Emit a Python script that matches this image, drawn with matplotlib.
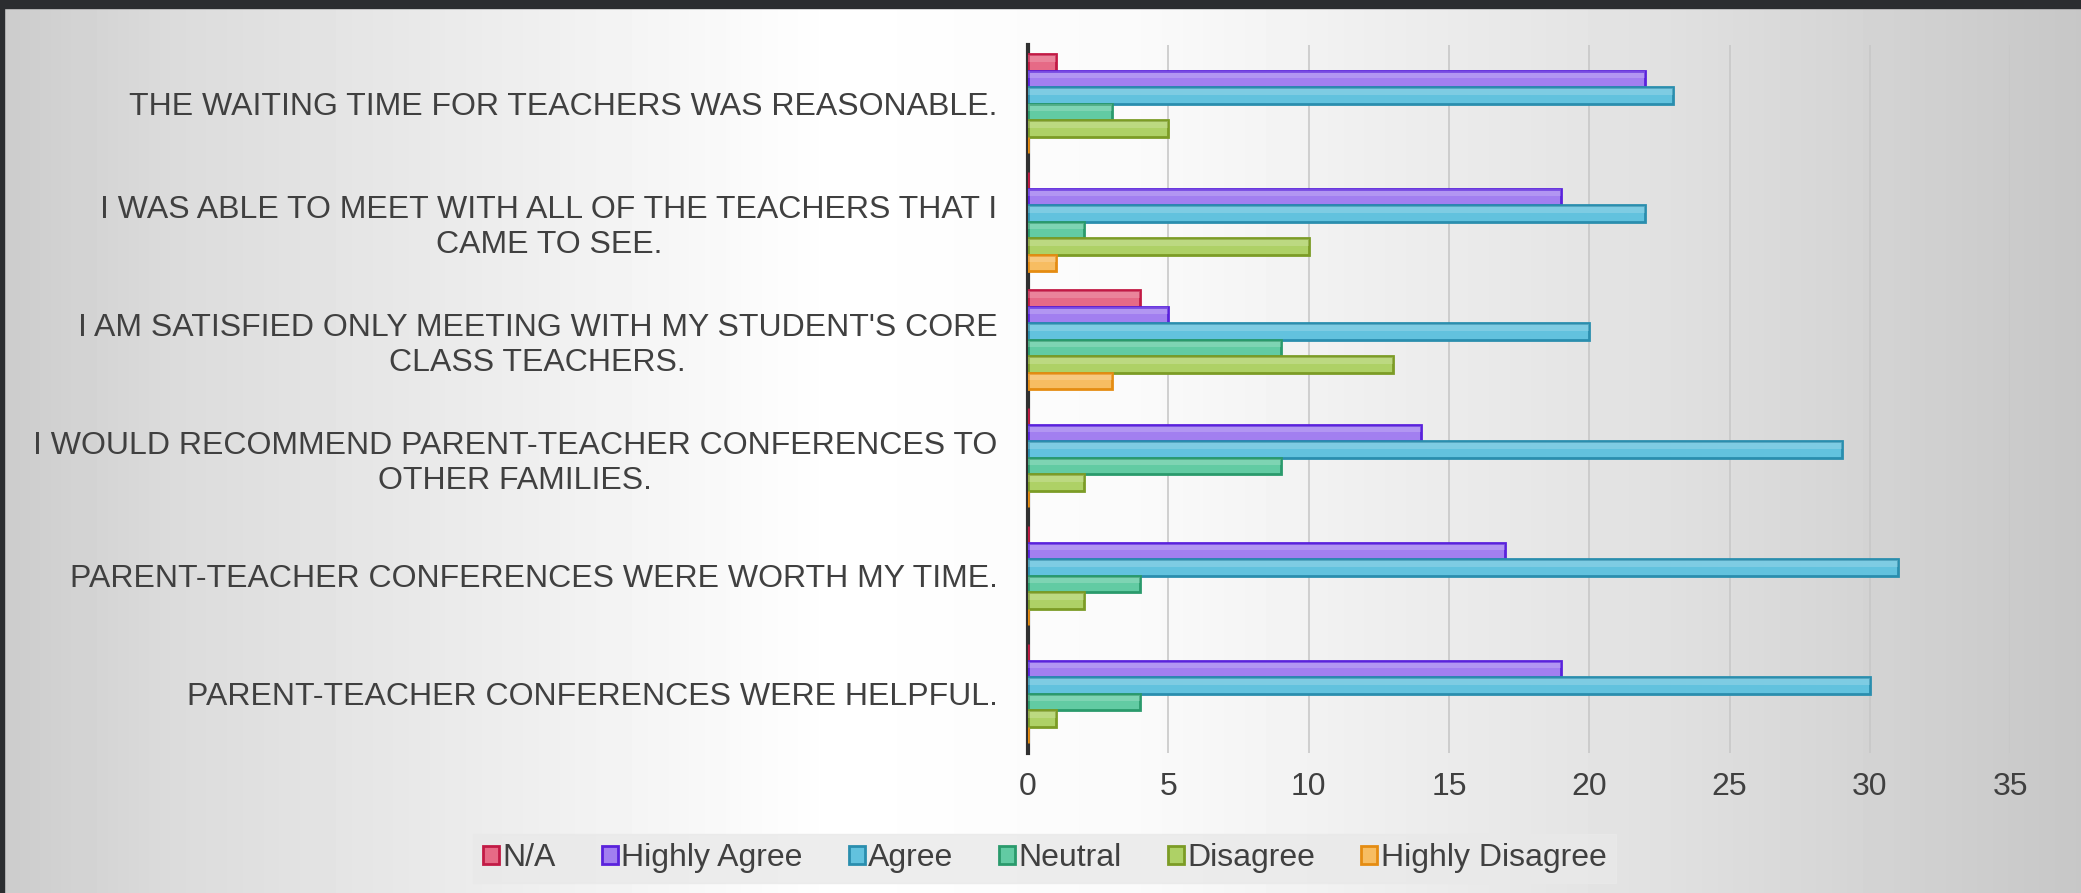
import numpy as np
import matplotlib.pyplot as plt
from matplotlib.patches import Rectangle

questions = [
    "THE WAITING TIME FOR TEACHERS WAS REASONABLE.",
    "I WAS ABLE TO MEET WITH ALL OF THE TEACHERS THAT I\nCAME TO SEE.",
    "I AM SATISFIED ONLY MEETING WITH MY STUDENT'S CORE\nCLASS TEACHERS.",
    "I WOULD RECOMMEND PARENT-TEACHER CONFERENCES TO\nOTHER FAMILIES.",
    "PARENT-TEACHER CONFERENCES WERE WORTH MY TIME.",
    "PARENT-TEACHER CONFERENCES WERE HELPFUL.",
]
series = ["N/A", "Highly Agree", "Agree", "Neutral", "Disagree", "Highly Disagree"]
na = [1, 0, 4, 0, 0, 0]
highly_agree = [22, 19, 5, 14, 17, 19]
agree = [23, 22, 20, 29, 31, 30]
neutral = [3, 2, 9, 9, 4, 4]
disagree = [5, 10, 13, 2, 2, 1]
highly_disagree = [0, 1, 3, 0, 0, 0]
xticks = [0, 5, 10, 15, 20, 25, 30, 35]

fills = ["#e66a86", "#a27ff0", "#62c2de", "#62cba3", "#aed166", "#f7bd62"]
edges = ["#c21a45", "#5a22dc", "#2a8eae", "#2a9a6c", "#7c9c26", "#e58c12"]

plt.rcParams['font.family'] = ['Liberation Sans', 'DejaVu Sans']

fig = plt.figure(figsize=(20.81, 8.93), dpi=100)

# background: dark frame + light panel with horizontal gradient
bg = fig.add_axes([0, 0, 1, 1])
bg.set_axis_off()
xs = np.linspace(0, 1, 400)
prof = np.interp(xs, [0, 0.08, 0.4, 0.55, 0.8, 1.0], [0.80, 0.86, 1.0, 0.98, 0.88, 0.78])
img = np.tile(prof, (50, 1))
bg.imshow(img, cmap='gray', vmin=0, vmax=1, aspect='auto',
          extent=[0.002, 1, 0, 0.991], transform=bg.transAxes)
bg.add_patch(Rectangle((0, 0.991), 1, 0.009, color="#2b2d30", transform=bg.transAxes))
bg.add_patch(Rectangle((0, 0), 0.002, 1, color="#2b2d30", transform=bg.transAxes))
bg.set_xlim(0, 1)
bg.set_ylim(0, 1)

ax = fig.add_axes([0.494, 0.157, 0.472, 0.793])
ax.patch.set_alpha(0)

data = [na, highly_agree, agree, neutral, disagree, highly_disagree]
y = np.arange(len(questions))
h = 0.14
for i, vals in enumerate(data):
    yy = y + (i - 2.5) * h
    ax.barh(yy, vals, height=h, color=fills[i], edgecolor=edges[i],
            linewidth=2, label=series[i], zorder=3)
    # glossy highlight on the upper half of each bar
    ax.barh(yy - h / 4, vals, height=h / 2.5, color="white", alpha=0.18,
            linewidth=0, zorder=4)

ax.set_xlim(0, 35)
ax.set_ylim(len(questions) - 0.5, -0.5)
ax.set_xticks(xticks)
ax.grid(axis='x', color="#c8c8c8", linewidth=1.2, zorder=0)
ax.set_yticks(y)
ax.set_yticklabels(questions, fontsize=23, color="#404040", multialignment='center')
ax.tick_params(axis='x', labelsize=23, colors="#404040", length=0, pad=14)
ax.tick_params(axis='y', length=0, pad=22)
for s in ['top', 'right', 'bottom']:
    ax.spines[s].set_visible(False)
ax.spines['left'].set_color("#303030")
ax.spines['left'].set_linewidth(3)

leg = fig.legend(loc='center', bbox_to_anchor=(0.502, 0.039), ncol=6, fontsize=23,
                 frameon=True, fancybox=False, handlelength=0.5, handleheight=0.5,
                 handletextpad=0.1, columnspacing=1.45, borderpad=0.3)
leg.get_frame().set_facecolor("#e9e9e9")
leg.get_frame().set_edgecolor("#e9e9e9")
for t in leg.get_texts():
    t.set_color("#404040")

fig.savefig("out.png", dpi=100)
